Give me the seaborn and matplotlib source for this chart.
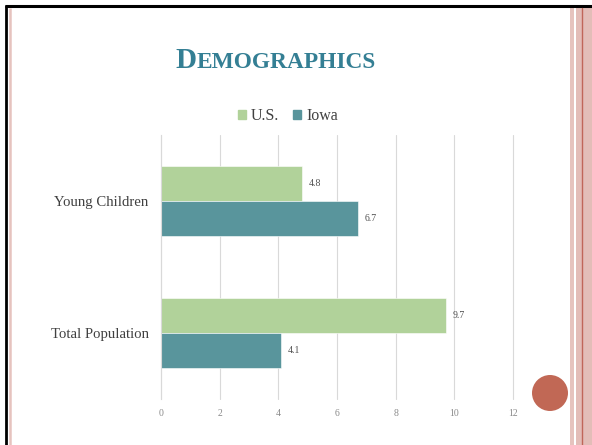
import matplotlib
matplotlib.use("Agg")
import matplotlib.pyplot as plt
import seaborn as sns
import pandas as pd
from matplotlib.patches import Rectangle, Ellipse
from matplotlib.lines import Line2D

categories = ["Young Children", "Total Population"]
series_names = ["U.S.", "Iowa"]
us_values = [4.8, 9.7]
iowa_values = [6.7, 4.1]
x_ticks = [0, 2, 4, 6, 8, 10, 12]

colors = {"U.S.": "#B1D29A", "Iowa": "#59959C"}
SERIF = ["Liberation Serif", "DejaVu Serif"]

rows = []
for c, u, i in zip(categories, us_values, iowa_values):
    rows.append({"category": c, "series": "U.S.", "value": u})
    rows.append({"category": c, "series": "Iowa", "value": i})
df = pd.DataFrame(rows)

sns.set_theme(style="white")
plt.rcParams["font.family"] = SERIF

W, H = 592, 445
fig = plt.figure(figsize=(W / 100, H / 100), dpi=100)
fig.patch.set_facecolor("white")

def fx(px):
    return px / W

def fy(py):
    return 1 - py / H

# plot area
ax = fig.add_axes([fx(161), fy(399), fx(513) - fx(161), fy(135) - fy(399)])
sns.barplot(data=df, y="category", x="value", hue="series", orient="h",
            order=categories, hue_order=series_names, palette=colors,
            saturation=1, width=0.53, dodge=True, ax=ax, edgecolor="white",
            linewidth=0.4, legend=False)
ax.set_xlim(0, 12)
ax.set_ylim(1.5, -0.5)
ax.set_xticks(x_ticks)
ax.set_xticklabels([str(t) for t in x_ticks], fontsize=7, color="#8a8a8a")
ax.tick_params(axis="x", length=0, pad=7)
ax.tick_params(axis="y", length=0, pad=9, labelsize=10.6, labelcolor="#404040")
ax.set_xlabel("")
ax.set_ylabel("")
ax.grid(axis="x", color="#D9D9D9", linewidth=0.8)
ax.set_axisbelow(True)
for gl in ax.get_xgridlines():
    gl.set_clip_on(False)
for s in ["top", "right", "bottom"]:
    ax.spines[s].set_visible(False)
ax.spines["left"].set_color("#D9D9D9")
ax.spines["left"].set_linewidth(0.8)
ax.set_facecolor("none")

for cont in ax.containers:
    ax.bar_label(cont, fmt="%.1f", padding=5, fontsize=7, color="#505050")

handles = [Rectangle((0, 0), 1, 1, color=colors[s]) for s in series_names]
fig.legend(handles, series_names, loc="center", bbox_to_anchor=(fx(288), fy(116)),
           ncol=2, frameon=False, fontsize=11.5, handlelength=0.5, handleheight=0.5,
           handletextpad=0.3, columnspacing=0.9, labelcolor="#404040",
           borderpad=0, borderaxespad=0)

# Title in small caps
title_color = "#347F94"
t1 = fig.text(fx(175), fy(68), "D", fontsize=21, fontweight="bold",
              color=title_color, va="baseline", ha="left")
fig.canvas.draw()
bb = t1.get_window_extent(fig.canvas.get_renderer())
fig.text(bb.x1 / W + 0.001, fy(68), "EMOGRAPHICS", fontsize=16.8, fontweight="bold",
         color=title_color, va="baseline", ha="left")

# slide decorations
fig.add_artist(Line2D([fx(5), 1], [fy(6), fy(6)], color="black", lw=2.2,
                      transform=fig.transFigure, solid_capstyle="butt"))
fig.add_artist(Line2D([fx(6), fx(6)], [fy(5), 0], color="black", lw=2.0,
                      transform=fig.transFigure, solid_capstyle="butt"))
fig.add_artist(Line2D([fx(10), fx(10)], [fy(8), 0], color="#E6C3BE", lw=1.8,
                      transform=fig.transFigure, solid_capstyle="butt"))
fig.add_artist(Rectangle((fx(570), 0), fx(3.5), fy(8), color="#E6C3BE",
                         transform=fig.transFigure, lw=0))
fig.add_artist(Rectangle((fx(576), 0), fx(16), fy(8), color="#E3BDB8",
                         transform=fig.transFigure, lw=0))
fig.add_artist(Line2D([fx(581.5), fx(581.5)], [fy(8), 0], color="#C0665A", lw=1.0,
                      transform=fig.transFigure))
fig.add_artist(Ellipse((fx(550), fy(393)), fx(36), 36 / H, color="#C16855",
                       transform=fig.transFigure, lw=0))

fig.savefig("out.png", dpi=100)
